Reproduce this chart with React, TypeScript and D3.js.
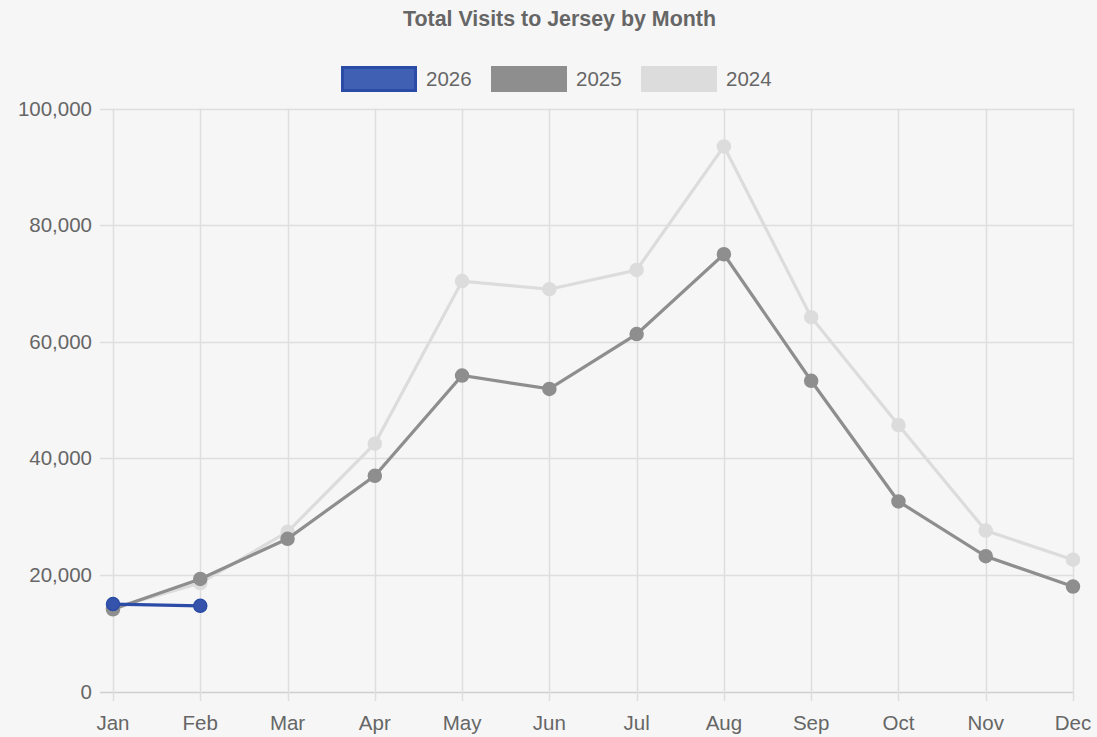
import React, { useRef, useEffect } from 'react';
import * as d3 from 'd3';

const months = ['Jan', 'Feb', 'Mar', 'Apr', 'May', 'Jun', 'Jul', 'Aug', 'Sep', 'Oct', 'Nov', 'Dec'];
const visits2026 = [15000, 14700];
const visits2025 = [14100, 19300, 26200, 37000, 54200, 51900, 61300, 75000, 53300, 32600, 23200, 18000];
const visits2024 = [14300, 18600, 27400, 42500, 70400, 69000, 72300, 93500, 64200, 45700, 27600, 22600];
const yTicks = [0, 20000, 40000, 60000, 80000, 100000];

const series = [
  { name: '2026', values: visits2026, stroke: '#2b4ca6', fill: '#3553ab', legendFill: '#4060b4' },
  { name: '2025', values: visits2025, stroke: '#8e8e8e', fill: '#8e8e8e', legendFill: '#8e8e8e' },
  { name: '2024', values: visits2024, stroke: '#dcdcdc', fill: '#dcdcdc', legendFill: '#dcdcdc' },
];

export default function App() {
  const ref = useRef<SVGSVGElement>(null);
  const width = 1097;
  const height = 737;

  useEffect(() => {
    const svg = d3.select(ref.current);
    svg.selectAll('*').remove();
    const font = "'Liberation Sans', Arial, sans-serif";

    svg.append('rect').attr('width', width).attr('height', height).attr('fill', '#f6f6f6');

    //---------- scales ----------//
    const x = d3.scalePoint().domain(months).range([113, 1073]);
    const y = d3.scaleLinear().domain([0, 100000]).range([691.5, 108.5]);

    //---------- grid ----------//
    const grid = svg.append('g');
    grid.selectAll('line.h')
      .data(yTicks)
      .join('line')
      .attr('x1', 100).attr('x2', 1073)
      .attr('y1', d => Math.round(y(d)) + 0.5).attr('y2', d => Math.round(y(d)) + 0.5)
      .attr('stroke', d => d === 0 ? '#cfcfcf' : '#dedede')
      .attr('stroke-width', 1.5);
    grid.selectAll('line.v')
      .data(months)
      .join('line')
      .attr('x1', d => Math.round(x(d)!) + 0.5).attr('x2', d => Math.round(x(d)!) + 0.5)
      .attr('y1', y(100000)).attr('y2', 701)
      .attr('stroke', '#dedede')
      .attr('stroke-width', 1.5);

    //---------- tick labels ----------//
    svg.append('g')
      .selectAll('text')
      .data(yTicks)
      .join('text')
      .attr('x', 92)
      .attr('y', d => y(d))
      .attr('dy', '0.35em')
      .attr('text-anchor', 'end')
      .attr('font-family', font)
      .attr('font-size', 20.5)
      .attr('fill', '#666')
      .text(d => d3.format(',')(d));

    svg.append('g')
      .selectAll('text')
      .data(months)
      .join('text')
      .attr('x', d => x(d)!)
      .attr('y', 730)
      .attr('text-anchor', 'middle')
      .attr('font-family', font)
      .attr('font-size', 20.5)
      .attr('fill', '#666')
      .text(d => d);

    //---------- lines ----------//
    const line = d3.line<number>()
      .x((d, i) => x(months[i])!)
      .y(d => y(d));

    [...series].reverse().forEach(s => {
      const g = svg.append('g');
      g.append('path')
        .attr('d', line(s.values))
        .attr('fill', 'none')
        .attr('stroke', s.stroke)
        .attr('stroke-width', 3.2);
      g.selectAll('circle')
        .data(s.values)
        .join('circle')
        .attr('cx', (d, i) => x(months[i])!)
        .attr('cy', d => y(d))
        .attr('r', 6.5)
        .attr('fill', s.fill)
        .attr('stroke', s.stroke)
        .attr('stroke-width', 1.5);
    });

    //---------- title ----------//
    svg.append('text')
      .attr('x', 559.5)
      .attr('y', 26)
      .attr('text-anchor', 'middle')
      .attr('font-family', font)
      .attr('font-weight', 'bold')
      .attr('font-size', 21.4)
      .attr('fill', '#666')
      .text('Total Visits to Jersey by Month');

    //---------- legend ----------//
    const legendX = [341, 491, 641];
    const legend = svg.append('g');
    series.forEach((s, i) => {
      legend.append('rect')
        .attr('x', legendX[i] + 1.5).attr('y', 67.5)
        .attr('width', 73).attr('height', 23)
        .attr('fill', s.legendFill)
        .attr('stroke', s.stroke)
        .attr('stroke-width', 3);
      legend.append('text')
        .attr('x', legendX[i] + 85)
        .attr('y', 79)
        .attr('dy', '0.35em')
        .attr('font-family', font)
        .attr('font-size', 20.5)
        .attr('fill', '#666')
        .text(s.name);
    });
  }, []);

  return (
    <svg ref={ref} width={width} height={height}
      style={{ position: 'absolute', left: 0, top: 0, display: 'block' }} />
  );
}
